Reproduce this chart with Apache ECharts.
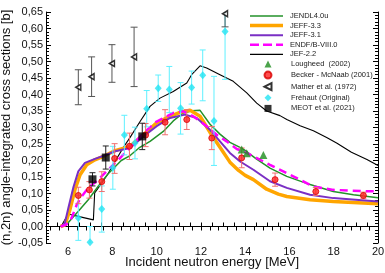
<!DOCTYPE html>
<html><head><meta charset="utf-8">
<script src="https://cdn.jsdelivr.net/npm/echarts@6/dist/echarts.min.js"></script>
<style>html,body{margin:0;padding:0;background:#fff}#c{width:385px;height:273px}</style>
</head><body><div id="c"></div>
<script>
// ---- evaluated data curves [E (MeV), sigma (b)] ----
const jendl40u = [[5.66,0.0],[6.0,0.011],[6.46,0.046],[6.91,0.081],[7.36,0.122],[7.81,0.16],[8.4,0.2],[8.8,0.215],[9.2,0.238],[9.7,0.258],[10.3,0.288],[10.75,0.32],[11.2,0.344],[11.6,0.351],[11.96,0.352],[12.41,0.31],[12.86,0.28],[13.31,0.255],[13.9,0.235],[14.5,0.205],[15.12,0.177],[15.88,0.152],[16.93,0.127],[17.98,0.106],[18.89,0.096],[20.0,0.087]];
const jeff33 = [[5.66,0.0],[5.86,0.005],[6.08,0.051],[6.31,0.112],[6.54,0.157],[6.84,0.187],[7.21,0.202],[7.67,0.215],[8.12,0.23],[8.8,0.243],[9.4,0.278],[10.0,0.314],[10.6,0.334],[11.05,0.346],[11.51,0.352],[11.96,0.334],[12.41,0.285],[12.86,0.24],[13.31,0.195],[13.7,0.17],[14.0,0.155],[14.37,0.142],[14.97,0.113],[15.5,0.098],[15.88,0.091],[16.93,0.081],[17.98,0.076],[20.0,0.069]];
const jeff31 = [[5.7,0.0],[5.85,0.01],[6.01,0.056],[6.23,0.117],[6.46,0.167],[6.76,0.193],[7.21,0.205],[7.67,0.216],[8.12,0.228],[8.8,0.238],[9.4,0.273],[10.0,0.304],[10.6,0.329],[11.28,0.339],[11.81,0.329],[12.41,0.293],[12.86,0.258],[13.31,0.223],[13.77,0.197],[14.37,0.172],[15.12,0.137],[15.88,0.117],[16.93,0.096],[17.98,0.086],[20.0,0.076]];
const endf80 = [[5.66,0.0],[5.9,0.005],[6.16,0.026],[6.39,0.066],[6.61,0.091],[6.91,0.117],[7.36,0.142],[7.81,0.172],[8.27,0.202],[8.8,0.24],[9.4,0.283],[10.0,0.318],[10.75,0.344],[11.2,0.349],[11.65,0.334],[12.26,0.304],[12.71,0.278],[13.16,0.258],[13.62,0.235],[13.92,0.228],[15.12,0.187],[16.17,0.152],[17.08,0.121],[17.98,0.111],[19.49,0.107],[20.0,0.107]];
const jef22 = [[5.68,0.0],[6.0,0.038],[6.5,0.03],[7.14,0.02],[7.2,0.102],[7.45,0.125],[7.8,0.16],[8.1,0.195],[8.5,0.24],[8.8,0.27],[9.25,0.318],[9.7,0.364],[10.15,0.389],[10.75,0.409],[11.36,0.435],[11.58,0.46],[11.96,0.487],[12.26,0.48],[12.86,0.46],[13.46,0.44],[14.07,0.405],[14.52,0.374],[14.97,0.35],[15.57,0.336],[15.88,0.324],[16.48,0.305],[17.08,0.29],[17.68,0.27],[18.13,0.253],[18.8,0.225],[19.5,0.203],[20.0,0.185]];
// ---- experimental points [E, sigma, error] ----
const lougheed = [[13.84,0.233],[14.07,0.222],[14.82,0.217]];
const becker = [[6.46,0.094,0.025],[6.96,0.111,0.025],[7.52,0.136,0.03],[8.1,0.206,0.045],[8.77,0.243,0.04],[9.5,0.277,0.035],[10.38,0.316,0.038],[11.36,0.324,0.03],[12.49,0.268,0.035],[13.84,0.208,0.03],[15.35,0.142,0.02],[17.19,0.106,0.012],[19.34,0.094,0.01]];
const mather = [[6.46,0.422,0.053],[7.06,0.454,0.06],[7.98,0.494,0.057],[8.98,0.514,0.09],[13.09,0.645,0.04]];
const frehaut = [[6.46,0.026,0.068],[6.99,-0.048,0.048],[7.52,0.053,0.07],[8.02,0.178,0.065],[8.54,0.277,0.06],[9.02,0.253,0.048],[9.55,0.357,0.055],[10.07,0.419,0.04],[10.57,0.415,0.07],[11.08,0.358,0.078],[11.58,0.421,0.05],[12.08,0.458,0.077],[12.59,0.32,0.135],[13.09,0.591,0.145]];
const meot = [[7.1,0.143,0.02],[7.7,0.209,0.035],[9.35,0.273,0.04]];
// ---- axes ----
const xMin = 5, xMax = 20, yMin = -0.05, yMax = 0.65;
const xTickLabels = [6,8,10,12,14,16,18,20];

const FONT = "'Liberation Sans', Arial, sans-serif";
const chart = echarts.init(document.getElementById('c'), null, {renderer:'canvas'});

function errSeries(name, data, color, cap){
  return {
    type:'custom', name:name, data:data, z:3, silent:true,
    encode:{x:0,y:1},
    renderItem:function(params, api){
      const x = api.value(0), y = api.value(1), e = api.value(2);
      const hi = Math.min(y+e, yMax), lo = Math.max(y-e, yMin);
      const p1 = api.coord([x, hi]), p2 = api.coord([x, lo]);
      const ch = [{type:'line', shape:{x1:p1[0],y1:p1[1],x2:p2[0],y2:p2[1]}, style:{stroke:color,lineWidth:1}}];
      if (y+e <= yMax) ch.push({type:'line', shape:{x1:p1[0]-cap,y1:p1[1],x2:p1[0]+cap,y2:p1[1]}, style:{stroke:color,lineWidth:1}});
      if (y-e >= yMin) ch.push({type:'line', shape:{x1:p2[0]-cap,y1:p2[1],x2:p2[0]+cap,y2:p2[1]}, style:{stroke:color,lineWidth:1}});
      return {type:'group', children:ch};
    }
  };
}
function lineSeries(name, data, color, width, type){
  return {type:'line', name:name, data:data, showSymbol:false, symbol:'none', z:2,
    lineStyle:{color:color, width:width, type:type||'solid'}, itemStyle:{color:color}, animation:false};
}
const topTicks = [];
for (let v = 5.2; v <= 20.001; v += 0.4) topTicks.push(+v.toFixed(1));

const mkMather = 'path://M0,5 L10,0 L10,10 Z';

const option = {
  animation:false,
  backgroundColor:'#fff',
  textStyle:{fontFamily:FONT},
  grid:{left:46, right:7, top:12, bottom:30, containLabel:false, outerBoundsMode:'none'},
  xAxis:[{
    type:'value', min:xMin, max:xMax, interval:0.5, position:'bottom',
    name:'Incident neutron energy [MeV]', nameLocation:'middle', nameGap:13, nameMoveOverlap:false,
    nameTextStyle:{fontSize:13, color:'#111', fontFamily:FONT},
    axisLine:{lineStyle:{color:'#000', width:1}},
    axisTick:{inside:true, length:4, lineStyle:{color:'#000'}},
    axisLabel:{margin:3, fontSize:11, color:'#111', fontFamily:FONT,
      formatter:function(v){ return xTickLabels.indexOf(Math.round(v*10)/10) >= 0 ? String(v) : ''; }},
    splitLine:{show:false}
  },{
    type:'value', min:xMin, max:xMax, position:'top',
    axisLine:{lineStyle:{color:'#000', width:1}},
    axisTick:{inside:true, length:4, customValues:topTicks, lineStyle:{color:'#000'}},
    axisLabel:{show:false}, splitLine:{show:false}
  }],
  yAxis:[{
    type:'value', min:yMin, max:yMax, interval:0.05, position:'left',
    name:'(n,2n) angle-integrated cross sections [b]', nameLocation:'middle', nameGap:33, nameMoveOverlap:false,
    nameTextStyle:{fontSize:13, color:'#111', fontFamily:FONT},
    axisLine:{lineStyle:{color:'#000', width:1}},
    axisTick:{inside:true, length:5, lineStyle:{color:'#000'}},
    minorTick:{show:true, splitNumber:5, length:3, lineStyle:{color:'#000'}},
    axisLabel:{margin:3, fontSize:11, color:'#111', fontFamily:FONT,
      formatter:function(v){ return v.toFixed(2).replace('.', ','); }},
    splitLine:{show:false}
  },{
    type:'value', min:yMin, max:yMax, interval:0.05, position:'right',
    axisLine:{lineStyle:{color:'#000', width:1}},
    axisTick:{inside:true, length:5, lineStyle:{color:'#000'}},
    minorTick:{show:true, splitNumber:5, length:3, lineStyle:{color:'#000'}},
    axisLabel:{show:false}, splitLine:{show:false}
  }],
  legend:[{
    orient:'vertical', left:245, top:6.5, itemWidth:33, itemHeight:9, itemGap:0.6,
    textStyle:{fontSize:7.5, color:'#222', fontFamily:FONT, lineHeight:9, padding:[0,0,0,2]},
    data:[
      {name:'JENDL4.0u', icon:'path://M0,0h33v1.5h-33z'},
      {name:'JEFF-3.3', icon:'path://M0,0h33v3.5h-33z'},
      {name:'JEFF-3.1', icon:'path://M0,0h33v2h-33z'},
      {name:'ENDF/B-VIII.0', icon:'path://M0,0h9v2.5h-9z M13,0h9v2.5h-9z M26,0h7v2.5h-7z'},
      {name:'JEF-2.2', icon:'path://M0,0h33v1.2h-33z'}
    ]
  },{
    orient:'vertical', left:258.5, top:55, itemWidth:7, itemHeight:7, itemGap:2.6,
    textStyle:{fontSize:7.5, color:'#222', fontFamily:FONT, lineHeight:7, padding:[0,0,0,14.5]},
    data:[
      {name:'Lougheed  (2002)', icon:'triangle'},
      {name:'Becker - McNaab (2001)', icon:'circle'},
      {name:'Mather et al. (1972)', icon:mkMather},
      {name:'Fréhaut (Original)', icon:'diamond'},
      {name:'MEOT et al. (2021)', icon:'rect'}
    ]
  }],
  series:[
    lineSeries('JEF-2.2', jef22, '#000000', 1.1),
    lineSeries('JENDL4.0u', jendl40u, '#23922a', 1.5),
    lineSeries('JEFF-3.3', jeff33, '#ffa500', 3.5),
    lineSeries('JEFF-3.1', jeff31, '#7a2fc4', 2),
    lineSeries('ENDF/B-VIII.0', endf80, '#ff00ff', 2.5, [8,5]),
    errSeries('err-frehaut', frehaut, '#5ff0ff', 3),
    errSeries('err-becker', becker, '#f07070', 3),
    errSeries('err-mather', mather, '#555555', 3.5),
    errSeries('err-meot', meot, '#222222', 3),
    {type:'scatter', name:'Fréhaut (Original)', data:frehaut, symbol:'diamond', symbolSize:[7,8], z:4,
      itemStyle:{color:'#22e3f2'}},
    {type:'scatter', name:'Becker - McNaab (2001)', data:becker, symbol:'circle', symbolSize:6, z:4,
      itemStyle:{color:'#ff2020', borderColor:'#d80000', borderWidth:1}},
    {type:'scatter', name:'Mather et al. (1972)', data:mather, symbol:mkMather, symbolSize:[5,6], z:4,
      itemStyle:{color:'#ffffff', borderColor:'#000', borderWidth:1.5}},
    {type:'scatter', name:'MEOT et al. (2021)', data:meot, symbol:'rect', symbolSize:8, z:5,
      itemStyle:{color:'#000'}},
    {type:'scatter', name:'Lougheed  (2002)', data:lougheed, symbol:'triangle', symbolSize:8, z:5,
      itemStyle:{color:'#1e8c1e'}}
  ]
};
chart.setOption(option);
</script></body></html>
